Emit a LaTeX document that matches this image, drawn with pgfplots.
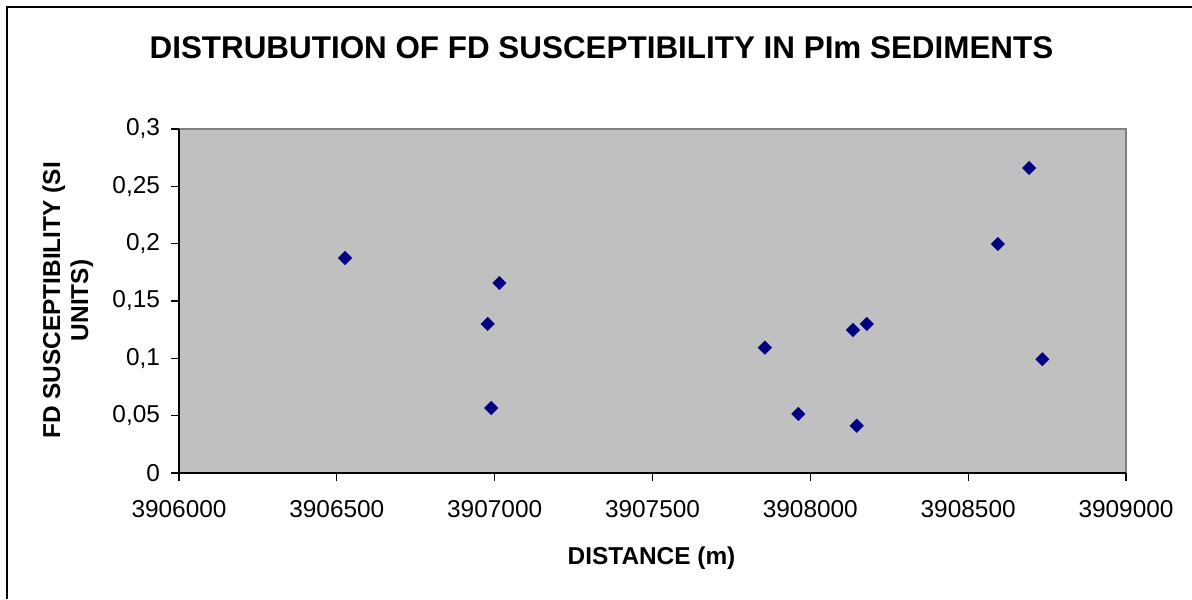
\documentclass[border=0pt]{standalone}
\usepackage{fontspec}
\setmainfont{Liberation Sans}
\usepackage{pgfplots}
\pgfplotsset{compat=1.18}
\definecolor{plotgray}{HTML}{C0C0C0}
\definecolor{edgegray}{HTML}{808080}
\definecolor{navymark}{HTML}{000080}

\begin{document}
\begin{tikzpicture}[x=1pt,y=1pt]
  % page = 1192x599 px at 0.5pt per px
  \useasboundingbox (0,0) rectangle (596,299.5);
  \draw[line width=0.8pt] (3.5,0) -- (3.5,296) -- (596,296);

  \begin{axis}[
    at={(89.5pt,63pt)}, anchor=south west,
    scale only axis,
    width=473.5pt, height=172pt,
    xmin=3906000, xmax=3909000,
    ymin=0, ymax=0.3,
    xtick={3906000,3906500,3907000,3907500,3908000,3908500,3909000},
    ytick={0,0.05,0.1,0.15,0.2,0.25,0.3},
    axis x line*=bottom,
    axis y line*=left,
    axis line style={black, line width=0.6pt},
    axis background/.style={fill=plotgray, draw=edgegray, line width=0.8pt},
    tick align=outside,
    major tick length=4pt,
    tick style={black, line width=0.6pt},
    scaled x ticks=false,
    scaled y ticks=false,
    /pgf/number format/assume math mode=true,
    ticklabel style={font=\fontsize{12.2}{14}\selectfont},
    xticklabel style={yshift=-6pt},
    yticklabel style={xshift=-2pt},
    xticklabel={\pgfmathprintnumber[fixed, precision=0, 1000 sep={}]{\tick}},
    yticklabel={\pgfmathprintnumber[fixed, precision=2, use comma]{\tick}},
    title={DISTRUBUTION OF FD SUSCEPTIBILITY IN PIm SEDIMENTS},
    title style={font=\bfseries\fontsize{15.7}{18}\selectfont, at={(0.4461,1.201)}, anchor=center, yshift=0pt},
    xlabel={DISTANCE (m)},
    xlabel style={font=\bfseries\fontsize{12.2}{14}\selectfont, at={(0.499,-0.2674)}, anchor=base},
    ylabel={FD SUSCEPTIBILITY (SI\\[0pt] UNITS)},
    ylabel style={font=\bfseries\fontsize{12.2}{14}\selectfont, align=center, at={(-0.1175,0.5015)}, anchor=center},
  ]
    \addplot[only marks, mark=square*, mark size=2.3pt,
      mark options={rotate=45, fill=navymark, draw=navymark}] coordinates {
      (3906526,0.1875)
      (3906978,0.130)
      (3906989,0.0567)
      (3907015,0.1657)
      (3907856,0.1093)
      (3907962,0.0515)
      (3908135,0.1247)
      (3908147,0.0412)
      (3908179,0.130)
      (3908594,0.1997)
      (3908693,0.266)
      (3908735,0.0992)
    };
  \end{axis}
\end{tikzpicture}
\end{document}
